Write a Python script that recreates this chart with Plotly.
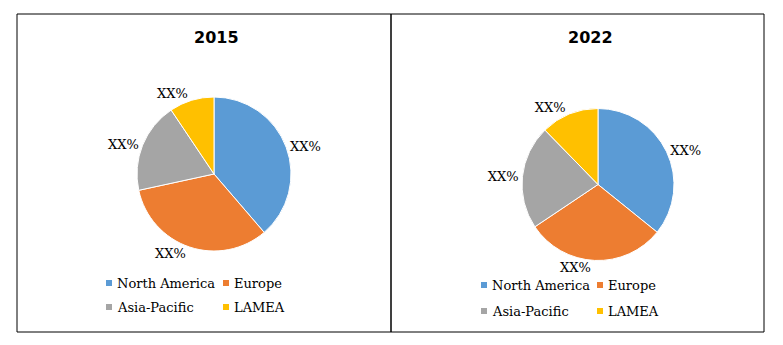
import plotly.graph_objects as go

W, H = 783, 345

regions = ["North America", "Europe", "Asia-Pacific", "LAMEA"]
colors = ["#5B9BD5", "#ED7D31", "#A5A5A5", "#FFC000"]
share_2015 = [38.7, 32.9, 19.0, 9.4]
share_2022 = [35.8, 29.8, 22.1, 12.3]
label_text = ["XX%", "XX%", "XX%", "XX%"]
years = ["2015", "2022"]


def px(x):
    return x / W


def py(y):
    return 1 - y / H


serif = "DejaVu Serif"

fig = go.Figure()

# panel geometry (pixels): center x, center y, radius
pies = [
    dict(vals=share_2015, cx=214, cy=174, r=77),
    dict(vals=share_2022, cx=598, cy=184.5, r=76),
]
for p in pies:
    fig.add_trace(go.Pie(
        labels=regions,
        values=p["vals"],
        text=label_text,
        textinfo="text",
        textposition="outside",
        textfont=dict(family=serif, size=13, color="#000000"),
        marker=dict(colors=colors, line=dict(color="#FFFFFF", width=1)),
        sort=False,
        direction="clockwise",
        rotation=0,
        showlegend=False,
        hoverinfo="label+percent",
        domain=dict(x=[px(p["cx"] - p["r"]), px(p["cx"] + p["r"])],
                    y=[py(p["cy"] + p["r"]), py(p["cy"] - p["r"])]),
    ))

shapes = []
# panel borders
for x0, x1 in [(17, 391), (391, 764)]:
    shapes.append(dict(type="rect", xref="paper", yref="paper",
                       x0=px(x0), x1=px(x1), y0=py(332), y1=py(14),
                       line=dict(color="#000000", width=1)))

annotations = []
title_pos = [(216, 37), (590, 37)]
for yr, (tx, ty) in zip(years, title_pos):
    annotations.append(dict(text="<b>%s</b>" % yr, x=px(tx), y=py(ty),
                            xref="paper", yref="paper", showarrow=False,
                            xanchor="center", yanchor="middle",
                            font=dict(family="DejaVu Sans", size=16, color="#000000")))

# legends (2x2 grid in each panel)
legend_layouts = [
    dict(cols=[115, 232], rows=[283, 307]),
    dict(cols=[490, 606], rows=[285, 311]),
]
for lg in legend_layouts:
    for i, (name, col) in enumerate(zip(regions, colors)):
        cx = lg["cols"][i % 2]
        cy = lg["rows"][i // 2]
        shapes.append(dict(type="rect", xref="paper", yref="paper",
                           x0=px(cx - 9), x1=px(cx - 3), y0=py(cy + 3), y1=py(cy - 3),
                           fillcolor=col, line=dict(width=0)))
        annotations.append(dict(text=name, x=px(cx), y=py(cy),
                                xref="paper", yref="paper", showarrow=False,
                                xanchor="left", yanchor="middle",
                                font=dict(family=serif, size=13, color="#000000")))

fig.update_layout(
    width=W, height=H,
    margin=dict(l=0, r=0, t=0, b=0),
    paper_bgcolor="#FFFFFF",
    plot_bgcolor="#FFFFFF",
    shapes=shapes,
    annotations=annotations,
    showlegend=False,
)

fig.write_html("out.html")
